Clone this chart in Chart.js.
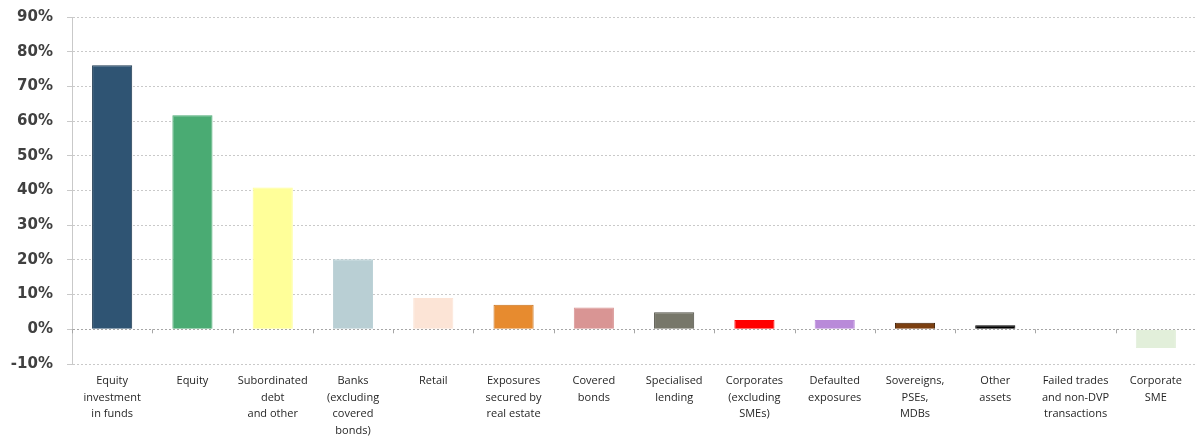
<!DOCTYPE html>
<html>
<head>
<meta charset="utf-8">
<script src="https://cdn.jsdelivr.net/npm/chart.js@4/dist/chart.umd.min.js"></script>
<style>
    html, body { margin: 0; padding: 0; background: #ffffff; }
    #wrap { width: 1196px; height: 437px; position: relative; }
</style>
</head>
<body>
<div id="wrap"><canvas id="riskChart"></canvas></div>
<script>
// categories (multi-line labels)
const categories = [
    ['Equity', 'investment', 'in funds'],
    ['Equity'],
    ['Subordinated', 'debt', 'and other'],
    ['Banks', '(excluding', 'covered', 'bonds)'],
    ['Retail'],
    ['Exposures', 'secured by', 'real estate'],
    ['Covered', 'bonds'],
    ['Specialised', 'lending'],
    ['Corporates', '(excluding', 'SMEs)'],
    ['Defaulted', 'exposures'],
    ['Sovereigns,', 'PSEs,', 'MDBs'],
    ['Other', 'assets'],
    ['Failed trades', 'and non-DVP', 'transactions'],
    ['Corporate', 'SME']
];

// values in %
const values = [76.1, 61.7, 40.9, 20.2, 9.0, 7.1, 6.3, 4.9, 2.7, 2.7, 1.9, 1.2, 0, -5.4];

const barColors = ['#2F5473', '#4AAB73', '#FFFF99', '#B9CFD4', '#FCE4D6', '#E78B2F', '#D99594',
    '#77776A', '#FF0000', '#B98AD9', '#7B3F10', '#000000', '#FFFFFF', '#E2EFDA'];
const barBorders = ['#1C3850', '#4AAB73', '#FFFF99', '#B9CFD4', '#FCE4D6', '#C8711C', '#D99594',
    '#4F4F45', '#FF0000', '#B98AD9', '#3F1F05', '#000000', '#FFFFFF', '#E2EFDA'];

const yTicks = [-10, 0, 10, 20, 30, 40, 50, 60, 70, 80, 90];

// small tick marks on the 0% line between categories
const zeroAxisTicks = {
    id: 'zeroAxisTicks',
    afterDatasetsDraw(chart) {
        const { ctx, scales: { x, y } } = chart;
        const y0 = y.getPixelForValue(0);
        ctx.save();
        ctx.strokeStyle = '#A6A6A6';
        ctx.lineWidth = 1;
        for (let i = 0; i <= categories.length; i++) {
            const px = Math.round(x.getPixelForValue(i - 0.5)) + 0.5;
            ctx.beginPath();
            ctx.moveTo(px, y0);
            ctx.lineTo(px, y0 + 4);
            ctx.stroke();
        }
        ctx.restore();
    }
};

new Chart(document.getElementById('riskChart'), {
    type: 'bar',
    data: {
        labels: categories,
        datasets: [{
            data: values,
            backgroundColor: barColors,
            borderColor: barBorders,
            borderWidth: 1,
            categoryPercentage: 1,
            barPercentage: 0.5
        }]
    },
    options: {
        responsive: true,
        maintainAspectRatio: false,
        animation: false,
        layout: { padding: { top: 17, right: 0, bottom: 0, left: 0 } },
        plugins: {
            legend: { display: false },
            tooltip: { enabled: false }
        },
        scales: {
            x: {
                grid: { display: false, drawTicks: false },
                border: { display: false },
                ticks: {
                    color: '#262626',
                    font: { family: 'Open Sans', size: 11, lineHeight: 1.5 },
                    padding: 9,
                    maxRotation: 0,
                    autoSkip: false
                },
                afterFit(scale) { scale.height = 73; }
            },
            y: {
                min: -10,
                max: 90,
                afterBuildTicks(scale) { scale.ticks = yTicks.map(v => ({ value: v })); },
                afterFit(scale) { scale.width = 72; },
                grid: {
                    color: ctx => ctx.tick && ctx.tick.value === 0 ? '#A6A6A6' : '#C9C9C9',
                    tickLength: 5,
                    tickColor: '#C9C9C9'
                },
                border: { display: true, color: '#C9C9C9', dash: [2, 2] },
                ticks: {
                    color: '#404040',
                    font: { family: 'DejaVu Sans', size: 15, weight: 'bold', lineHeight: 0.4 },
                    padding: 14,
                    callback: v => v + '%'
                }
            }
        }
    },
    plugins: [zeroAxisTicks]
});
</script>
</body>
</html>
